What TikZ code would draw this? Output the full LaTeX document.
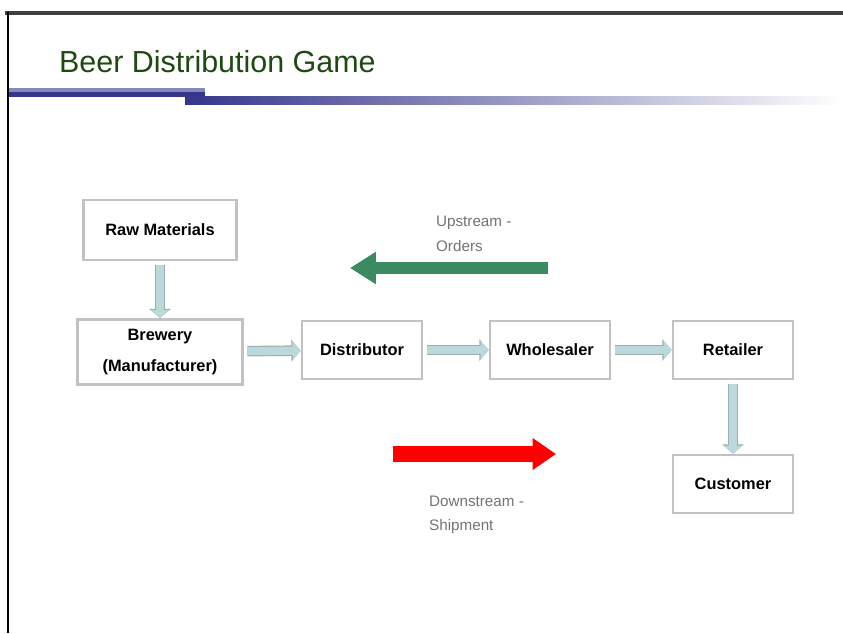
\documentclass[tikz,border=0pt]{standalone}
\usepackage{fontspec}
\setmainfont{Liberation Sans}
\usetikzlibrary{arrows.meta}
\definecolor{titlegreen}{HTML}{1E4A12}
\definecolor{barblue}{HTML}{35358A}
\definecolor{pipeteal}{HTML}{BBD9DA}
\definecolor{pipeedge}{HTML}{9AAFB0}
\definecolor{upgreen}{HTML}{3A8A62}
\definecolor{boxedge}{HTML}{C2C2C2}
\tikzset{
  stage/.style={draw=boxedge, line width=2.2pt, fill=white, align=center, minimum width=120*0.03cm, minimum height=58*0.03cm, font=\bfseries\fontsize{14}{17}\selectfont, inner sep=2pt},
  pipe/.style={-{Triangle[length=7pt, width=15pt]}, line width=7pt, draw=pipeteal, shorten <=3pt, preaction={draw=pipeedge, line width=9pt, shorten <=3pt, -{Triangle[length=8pt, width=18pt]}}},
  flowlabel/.style={align=left, anchor=west, text=black!55, font=\fontsize{13}{21}\selectfont},
}

\begin{document}
\begin{tikzpicture}[x=0.03cm, y=-0.03cm]
    \useasboundingbox (0,0) rectangle (843,633);
    % slide frame and title bar
    \draw[black!75, line width=3pt] (5,13) -- (843,13);
    \draw[black, line width=1.5pt] (8,12) -- (8,633);
    \node[anchor=west, text=titlegreen, font=\fontsize{26}{30}\selectfont] (title) at (55,62) {Beer Distribution Game};
    \fill[barblue!60] (9,88) rectangle (205,92);
    \fill[barblue] (9,92) rectangle (205,97);
    \shade[left color=barblue, right color=white] (185,96) rectangle (843,104);
    % supply chain stages
    \node[stage, minimum width=153*0.03cm, minimum height=60*0.03cm] (raw) at (160,230) {Raw Materials};
    \node[stage, minimum width=165*0.03cm, minimum height=65*0.03cm] (brewery) at (160,352) {Brewery\\[9pt](Manufacturer)};
    \node[stage] (dist) at (362,350) {Distributor};
    \node[stage] (whole) at (550,350) {Wholesaler};
    \node[stage] (retail) at (733,350) {Retailer};
    \node[stage] (cust) at (733,484) {Customer};
    \draw[pipe] (raw) -- (brewery);
    \draw[pipe] (brewery) -- (dist);
    \draw[pipe] (dist) -- (whole);
    \draw[pipe] (whole) -- (retail);
    \draw[pipe] (retail) -- (cust);
    % direction of orders and shipments
    \coordinate (upstart) at (548,268);
    \coordinate (upend) at (350,268);
    \coordinate (downstart) at (393,454);
    \coordinate (downend) at (556,454);
    \draw[upgreen, line width=11pt, -{Triangle[length=22pt, width=26pt]}] (upstart) -- (upend);
    \draw[red, line width=13pt, -{Triangle[length=20pt, width=26pt]}] (downstart) -- (downend);
    \node[flowlabel] (uplabel) at (432,234) {Upstream -\\Orders};
    \node[flowlabel] (downlabel) at (425,515) {Downstream -\\Shipment};
\end{tikzpicture}
\end{document}
